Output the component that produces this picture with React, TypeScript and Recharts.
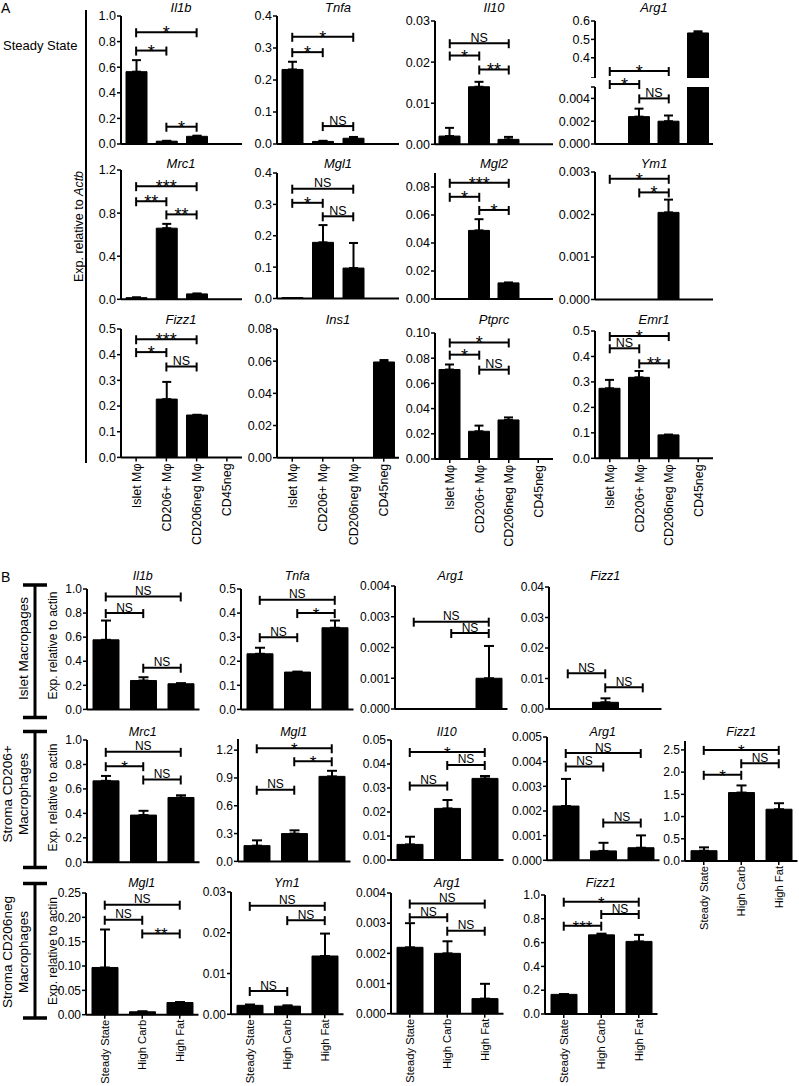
import React from 'react';
import { BarChart, Bar, XAxis, YAxis, ErrorBar, ReferenceLine } from 'recharts';

const FONT = '"Liberation Sans", Arial, Helvetica, sans-serif';

type Sig = [number, number, number, string];

// ---- Panel A: steady state, four populations ----
const groupsA = ['Islet Mφ', 'CD206+ Mφ', 'CD206neg Mφ', 'CD45neg'];

const aIl1b = [0.565, 0.022, 0.06, 0];
const aIl1bErr = [0.09, 0.003, 0.005, 0];
const aIl1bSig: Sig[] = [[0, 2, 0.873, '*'], [0, 1, 0.73, '*'], [1, 2, 0.135, '*']];

const aTnfa = [0.233, 0.008, 0.018, 0];
const aTnfaErr = [0.024, 0.002, 0.004, 0];
const aTnfaSig: Sig[] = [[0, 2, 0.335, '*'], [0, 1, 0.287, '*'], [1, 2, 0.056, 'NS']];

const aIl10 = [0.002, 0.014, 0.0012, 0];
const aIl10Err = [0.002, 0.0012, 0.0006, 0];
const aIl10Sig: Sig[] = [[0, 2, 0.0246, 'NS'], [0, 1, 0.0216, '*'], [1, 2, 0.0182, '**']];

const aArg1 = [0, 0.0024, 0.002, 0.535];
const aArg1Err = [0, 0.0007, 0.0005, 0.009];
const aArg1Sig: Sig[] = [[0, 2, 0.0064, '*'], [0, 1, 0.00526, '*'], [1, 2, 0.004, 'NS']];

const aMrc1 = [0.015, 0.66, 0.05, 0];
const aMrc1Err = [0.003, 0.04, 0.004, 0];
const aMrc1Sig: Sig[] = [[0, 2, 1.05, '***'], [0, 1, 0.91, '**'], [1, 2, 0.788, '**']];

const aMgl1 = [0.003, 0.179, 0.097, 0];
const aMgl1Err = [0, 0.055, 0.08, 0];
const aMgl1Sig: Sig[] = [[0, 2, 0.35, 'NS'], [0, 1, 0.305, '*'], [1, 2, 0.262, 'NS']];

const aMgl2 = [0, 0.049, 0.0115, 0];
const aMgl2Err = [0, 0.008, 0.0003, 0];
const aMgl2Sig: Sig[] = [[0, 2, 0.083, '***'], [0, 1, 0.073, '*'], [1, 2, 0.0636, '*']];

const aYm1 = [0, 0, 0.00205, 0];
const aYm1Err = [0, 0, 0.0003, 0];
const aYm1Sig: Sig[] = [[0, 2, 0.00284, '*'], [1, 2, 0.00252, '*']];

const aFizz1 = [0, 0.227, 0.165, 0];
const aFizz1Err = [0, 0.067, 0.001, 0];
const aFizz1Sig: Sig[] = [[0, 2, 0.46, '***'], [0, 1, 0.41, '*'], [1, 2, 0.354, 'NS']];

const aIns1 = [0, 0, 0, 0.0595];
const aIns1Err = [0, 0, 0, 0.0012];

const aPtprc = [0.071, 0.022, 0.031, 0];
const aPtprcErr = [0.004, 0.0045, 0.002, 0];
const aPtprcSig: Sig[] = [[0, 2, 0.0925, '*'], [0, 1, 0.0828, '*'], [1, 2, 0.0709, 'NS']];

const aEmr1 = [0.275, 0.318, 0.092, 0];
const aEmr1Err = [0.033, 0.025, 0.001, 0];
const aEmr1Sig: Sig[] = [[0, 2, 0.48, '*'], [0, 1, 0.432, 'NS'], [1, 2, 0.373, '**']];

// ---- Panel B: diets ----
const groupsB = ['Steady State', 'High Carb', 'High Fat'];

const bIl1b = [0.578, 0.24, 0.213];
const bIl1bErr = [0.16, 0.027, 0.005];
const bIl1bSig: Sig[] = [[0, 2, 0.938, 'NS'], [0, 1, 0.8, 'NS'], [1, 2, 0.346, 'NS']];

const bTnfa = [0.231, 0.155, 0.339];
const bTnfaErr = [0.025, 0.002, 0.03];
const bTnfaSig: Sig[] = [[0, 2, 0.455, 'NS'], [1, 2, 0.4, '*'], [0, 1, 0.3, 'NS']];

const bArg1Islet = [0, 0, 0.001];
const bArg1IsletErr = [0, 0, 0.00105];
const bArg1IsletSig: Sig[] = [[0, 2, 0.00284, 'NS'], [1, 2, 0.00247, 'NS']];

const bFizz1Islet = [0, 0.0022, 0];
const bFizz1IsletErr = [0, 0.0013, 0];
const bFizz1IsletSig: Sig[] = [[0, 1, 0.0117, 'NS'], [1, 2, 0.0071, 'NS']];

const bMrc1 = [0.666, 0.386, 0.53];
const bMrc1Err = [0.04, 0.035, 0.018];
const bMrc1Sig: Sig[] = [[0, 2, 0.903, 'NS'], [0, 1, 0.786, '*'], [1, 2, 0.677, 'NS']];

const bMgl1Pos = [0.17, 0.3, 0.917];
const bMgl1PosErr = [0.057, 0.035, 0.06];
const bMgl1PosSig: Sig[] = [[0, 2, 1.22, '*'], [1, 2, 1.08, '*'], [0, 1, 0.773, 'NS']];

const bIl10 = [0.0065, 0.0215, 0.034];
const bIl10Err = [0.0032, 0.0035, 0.001];
const bIl10Sig: Sig[] = [[0, 2, 0.045, '*'], [1, 2, 0.0396, 'NS'], [0, 1, 0.031, 'NS']];

const bArg1Pos = [0.0022, 0.00038, 0.00051];
const bArg1PosErr = [0.0011, 0.00033, 0.0005];
const bArg1PosSig: Sig[] = [[0, 2, 0.00435, 'NS'], [0, 1, 0.0038, 'NS'], [1, 2, 0.00153, 'NS']];

const bFizz1Pos = [0.232, 1.54, 1.165];
const bFizz1PosErr = [0.075, 0.16, 0.135];
const bFizz1PosSig: Sig[] = [[0, 2, 2.5, '*'], [1, 2, 2.2, 'NS'], [0, 1, 1.94, '*']];

const bMgl1Neg = [0.097, 0.006, 0.025];
const bMgl1NegErr = [0.078, 0.001, 0.001];
const bMgl1NegSig: Sig[] = [[0, 2, 0.226, 'NS'], [0, 1, 0.195, 'NS'], [1, 2, 0.167, '**']];

const bYm1Neg = [0.0022, 0.002, 0.0143];
const bYm1NegErr = [0.0002, 0.0002, 0.0055];
const bYm1NegSig: Sig[] = [[0, 2, 0.0266, 'NS'], [1, 2, 0.0231, 'NS'], [0, 1, 0.0057, 'NS']];

const bArg1Neg = [0.0022, 0.002, 0.0005];
const bArg1NegErr = [0.0008, 0.0004, 0.00049];
const bArg1NegSig: Sig[] = [[0, 2, 0.00365, 'NS'], [0, 1, 0.0032, 'NS'], [1, 2, 0.00275, 'NS']];

const bFizz1Neg = [0.165, 0.665, 0.61];
const bFizz1NegErr = [0.002, 0.01, 0.055];
const bFizz1NegSig: Sig[] = [[0, 2, 0.944, '*'], [1, 2, 0.84, 'NS'], [0, 1, 0.742, '***']];

interface Cfg {
  title?: string;
  cats: string[];
  vals: (number | null)[];
  errs: number[];
  sig: Sig[];
  x: number; w: number; top: number; bottom: number;
  min?: number; max: number; ticks: number[]; dec: number;
  blank?: number[];
  labels?: boolean; hideX?: boolean; clip?: boolean; padT?: number;
  titleY?: number;
  B?: boolean;
}

const bracket = (text: string, big: number, small: number) => (p: any) => {
  const { x1, y1, x2 } = p;
  const star = text.includes('*');
  return (
    <g>
      <line x1={x1} y1={y1} x2={x2} y2={y1} stroke="#000" strokeWidth={2} />
      <line x1={x1} y1={y1 - 4} x2={x1} y2={y1 + 5} stroke="#000" strokeWidth={2} />
      <line x1={x2} y1={y1 - 4} x2={x2} y2={y1 + 5} stroke="#000" strokeWidth={2} />
      <text x={(x1 + x2) / 2} y={star ? y1 + 7 : y1 - 1.5} textAnchor="middle"
        fontSize={star ? big : small} fontFamily={FONT} fill="#000">{text}</text>
    </g>
  );
};

const rotTick = (fs: number) => (p: any) => (
  <text transform={`translate(${p.x},${p.y}) rotate(-90)`} textAnchor="end" dy="0.35em"
    fontSize={fs} fontFamily={FONT} fill="#000">{p.payload.value}</text>
);

function Panel({ c }: { c: Cfg }) {
  const padT = c.padT ?? 16;
  const padL = 46;
  const padR = 4;
  const padB = c.hideX ? 0 : c.labels ? 95 : 8;
  const fs = c.B ? 12 : 12.5;
  const data = c.cats.map((name, i) => ({
    name,
    v: c.vals[i],
    e: c.errs[i] ? [0, c.errs[i]] : null,
  }));
  const axisStyle = { stroke: '#000', strokeWidth: 2 };
  const tickStyle = { stroke: '#000', strokeWidth: 1.5 };
  return (
    <div style={{ position: 'absolute', left: c.x - padL, top: c.top - padT }}>
      <BarChart width={padL + c.w + padR} height={padT + (c.bottom - c.top) + padB} data={data}
        margin={{ top: padT, right: padR, bottom: 0, left: 0 }}>
        <XAxis dataKey="name" hide={c.hideX} height={padB} interval={0} axisLine={axisStyle}
          tickLine={tickStyle} tickSize={4} tickMargin={c.B ? 1 : 2}
          tick={c.labels ? rotTick(c.B ? 11.2 : 12.5) : false} />
        <YAxis width={padL} type="number" domain={[c.min ?? 0, c.max]} ticks={c.ticks} interval={0}
          allowDataOverflow={!!c.clip} axisLine={axisStyle} tickLine={tickStyle} tickSize={4} tickMargin={1}
          tick={{ fontSize: fs, fill: '#000', fontFamily: FONT }}
          tickFormatter={(v: number) => (c.blank && c.blank.includes(v) ? '' : v.toFixed(c.dec))} />
        <Bar dataKey="v" fill="#000" stroke="#000" barSize={c.B ? 26 : 21} isAnimationActive={false}>
          <ErrorBar dataKey="e" direction="y" width={c.B ? 5 : 4.5} stroke="#000" strokeWidth={2} />
        </Bar>
        {c.sig.map(([a, b, y, t], i) => (
          <ReferenceLine key={i} ifOverflow="visible"
            segment={[{ x: c.cats[a], y }, { x: c.cats[b], y }]}
            shape={bracket(t, c.B ? 17 : 18, c.B ? 12 : 12.5)} />
        ))}
      </BarChart>
    </div>
  );
}

const AX = [120.5, 277, 435, 595];
const AW = [121, 122, 118, 118];
const BW = 112.5;

const panels: Cfg[] = [
  // A row 1
  { title: 'Il1b', cats: groupsA, vals: aIl1b, errs: aIl1bErr, sig: aIl1bSig, x: AX[0], w: AW[0], top: 16, bottom: 144, max: 1, ticks: [0, 0.2, 0.4, 0.6, 0.8, 1], dec: 1, titleY: 12 },
  { title: 'Tnfa', cats: groupsA, vals: aTnfa, errs: aTnfaErr, sig: aTnfaSig, x: AX[1], w: AW[1], top: 16, bottom: 144, max: 0.4, ticks: [0, 0.1, 0.2, 0.3, 0.4], dec: 1, titleY: 12 },
  { title: 'Il10', cats: groupsA, vals: aIl10, errs: aIl10Err, sig: aIl10Sig, x: AX[2], w: AW[2], top: 20.7, bottom: 144, max: 0.03, ticks: [0, 0.01, 0.02, 0.03], dec: 2, titleY: 12 },
  { title: 'Arg1', cats: groupsA, vals: aArg1, errs: aArg1Err.map((e, i) => (aArg1[i] > 0.005 ? 0 : e)), sig: aArg1Sig, x: AX[3], w: AW[3], top: 87, bottom: 144, max: 0.005, ticks: [0, 0.002, 0.004, 0.005], blank: [0.005], dec: 3, clip: true, padT: 34, titleY: 12 },
  { cats: groupsA, vals: aArg1.map((v) => (v > 0.29 ? v : null)), errs: aArg1Err.map((e, i) => (aArg1[i] > 0.29 ? e : 0)), sig: [], x: AX[3], w: AW[3], top: 20.7, bottom: 77.7, min: 0.29, max: 0.6, ticks: [0.29, 0.4, 0.5, 0.6], blank: [0.29], dec: 1, clip: true, hideX: true, padT: 8 },
  // A row 2
  { title: 'Mrc1', cats: groupsA, vals: aMrc1, errs: aMrc1Err, sig: aMrc1Sig, x: AX[0], w: AW[0], top: 169.5, bottom: 298.8, max: 1.2, ticks: [0, 0.4, 0.8, 1.2], dec: 1, titleY: 168 },
  { title: 'Mgl1', cats: groupsA, vals: aMgl1, errs: aMgl1Err, sig: aMgl1Sig, x: AX[1], w: AW[1], top: 173.3, bottom: 298.8, max: 0.4, ticks: [0, 0.1, 0.2, 0.3, 0.4], dec: 1, titleY: 168 },
  { title: 'Mgl2', cats: groupsA, vals: aMgl2, errs: aMgl2Err, sig: aMgl2Sig, x: AX[2], w: AW[2], top: 173, bottom: 299, max: 0.09, ticks: [0, 0.02, 0.04, 0.06, 0.08], dec: 2, titleY: 168 },
  { title: 'Ym1', cats: groupsA, vals: aYm1, errs: aYm1Err, sig: aYm1Sig, x: AX[3], w: AW[3], top: 171.5, bottom: 299, max: 0.003, ticks: [0, 0.001, 0.002, 0.003], dec: 3, titleY: 168 },
  // A row 3
  { title: 'Fizz1', cats: groupsA, vals: aFizz1, errs: aFizz1Err, sig: aFizz1Sig, x: AX[0], w: AW[0], top: 329.3, bottom: 457.7, max: 0.5, ticks: [0, 0.1, 0.2, 0.3, 0.4, 0.5], dec: 1, labels: true, titleY: 324 },
  { title: 'Ins1', cats: groupsA, vals: aIns1, errs: aIns1Err, sig: [], x: AX[1], w: AW[1], top: 329, bottom: 457.7, max: 0.08, ticks: [0, 0.02, 0.04, 0.06, 0.08], dec: 2, labels: true, titleY: 324 },
  { title: 'Ptprc', cats: groupsA, vals: aPtprc, errs: aPtprcErr, sig: aPtprcSig, x: AX[2], w: AW[2], top: 333.3, bottom: 459.3, max: 0.1, ticks: [0, 0.02, 0.04, 0.06, 0.08, 0.1], dec: 2, labels: true, titleY: 324 },
  { title: 'Emr1', cats: groupsA, vals: aEmr1, errs: aEmr1Err, sig: aEmr1Sig, x: AX[3], w: AW[3], top: 331, bottom: 458.3, max: 0.5, ticks: [0, 0.1, 0.2, 0.3, 0.4, 0.5], dec: 1, labels: true, titleY: 324 },
  // B row 1
  { B: true, title: 'Il1b', cats: groupsB, vals: bIl1b, errs: bIl1bErr, sig: bIl1bSig, x: 86.5, w: BW, top: 588.6, bottom: 709, max: 1, ticks: [0, 0.2, 0.4, 0.6, 0.8, 1], dec: 1, titleY: 580 },
  { B: true, title: 'Tnfa', cats: groupsB, vals: bTnfa, errs: bTnfaErr, sig: bTnfaSig, x: 241, w: BW, top: 588.6, bottom: 709, max: 0.5, ticks: [0, 0.1, 0.2, 0.3, 0.4, 0.5], dec: 1, titleY: 580 },
  { B: true, title: 'Arg1', cats: groupsB, vals: bArg1Islet, errs: bArg1IsletErr, sig: bArg1IsletSig, x: 394.5, w: BW, top: 586, bottom: 709, max: 0.004, ticks: [0, 0.001, 0.002, 0.003, 0.004], dec: 3, titleY: 580 },
  { B: true, title: 'Fizz1', cats: groupsB, vals: bFizz1Islet, errs: bFizz1IsletErr, sig: bFizz1IsletSig, x: 549, w: BW, top: 587, bottom: 709, max: 0.04, ticks: [0, 0.01, 0.02, 0.03, 0.04], dec: 2, titleY: 580 },
  // B row 2
  { B: true, title: 'Mrc1', cats: groupsB, vals: bMrc1, errs: bMrc1Err, sig: bMrc1Sig, x: 86.5, w: BW, top: 740, bottom: 862.3, max: 1, ticks: [0, 0.2, 0.4, 0.6, 0.8, 1], dec: 1, titleY: 736 },
  { B: true, title: 'Mgl1', cats: groupsB, vals: bMgl1Pos, errs: bMgl1PosErr, sig: bMgl1PosSig, x: 237.5, w: BW, top: 739.3, bottom: 861.7, max: 1.32, ticks: [0, 0.3, 0.6, 0.9, 1.2], dec: 1, titleY: 736 },
  { B: true, title: 'Il10', cats: groupsB, vals: bIl10, errs: bIl10Err, sig: bIl10Sig, x: 390.5, w: BW, top: 740, bottom: 860, max: 0.05, ticks: [0, 0.01, 0.02, 0.03, 0.04, 0.05], dec: 2, titleY: 736 },
  { B: true, title: 'Arg1', cats: groupsB, vals: bArg1Pos, errs: bArg1PosErr, sig: bArg1PosSig, x: 546.5, w: BW, top: 736.7, bottom: 860, max: 0.005, ticks: [0, 0.001, 0.002, 0.003, 0.004, 0.005], dec: 3, titleY: 736 },
  { B: true, title: 'Fizz1', cats: groupsB, vals: bFizz1Pos, errs: bFizz1PosErr, sig: bFizz1PosSig, x: 685, w: BW, top: 741, bottom: 861, max: 2.7, ticks: [0, 0.5, 1, 1.5, 2, 2.5], dec: 1, labels: true, titleY: 736 },
  // B row 3
  { B: true, title: 'Mgl1', cats: groupsB, vals: bMgl1Neg, errs: bMgl1NegErr, sig: bMgl1NegSig, x: 85.5, w: BW, top: 893.3, bottom: 1015, max: 0.25, ticks: [0, 0.05, 0.1, 0.15, 0.2, 0.25], dec: 2, labels: true, titleY: 887 },
  { B: true, title: 'Ym1', cats: groupsB, vals: bYm1Neg, errs: bYm1NegErr, sig: bYm1NegSig, x: 230.5, w: BW, top: 891.7, bottom: 1014, max: 0.03, ticks: [0, 0.01, 0.02, 0.03], dec: 2, labels: true, titleY: 887 },
  { B: true, title: 'Arg1', cats: groupsB, vals: bArg1Neg, errs: bArg1NegErr, sig: bArg1NegSig, x: 391, w: BW, top: 893.3, bottom: 1014, max: 0.004, ticks: [0, 0.001, 0.002, 0.003, 0.004], dec: 3, labels: true, titleY: 887 },
  { B: true, title: 'Fizz1', cats: groupsB, vals: bFizz1Neg, errs: bFizz1NegErr, sig: bFizz1NegSig, x: 544.5, w: BW, top: 895, bottom: 1014, max: 1, ticks: [0, 0.2, 0.4, 0.6, 0.8, 1], dec: 1, labels: true, titleY: 887 },
];

const beams = [[585, 717.5], [731.5, 867.5], [883.5, 1018]];

export default function App() {
  return (
    <div style={{ position: 'absolute', left: 0, top: 0, width: 799, height: 1086, background: '#fff', fontFamily: FONT, overflow: 'hidden' }}>
      <svg width={799} height={1086} style={{ position: 'absolute', left: 0, top: 0 }} fontFamily={FONT} fill="#000">
        <text x={1} y={13} fontSize={14}>A</text>
        <text x={3} y={50} fontSize={13}>Steady State</text>
        <line x1={86} y1={10} x2={86} y2={463} stroke="#000" strokeWidth={2} />
        <text transform="translate(82.5,226.5) rotate(-90)" textAnchor="middle" fontSize={12.5}>
          Exp. relative to <tspan fontStyle="italic">Actb</tspan>
        </text>
        <text x={1} y={581.5} fontSize={14}>B</text>
        {beams.map(([t, b], i) => (
          <g key={i}>
            <line x1={35} y1={t} x2={35} y2={b} stroke="#000" strokeWidth={3} />
            <line x1={23} y1={t} x2={47} y2={t} stroke="#000" strokeWidth={3.5} />
            <line x1={23} y1={b} x2={47} y2={b} stroke="#000" strokeWidth={3.5} />
          </g>
        ))}
        <text transform="translate(28,648.5) rotate(-90)" textAnchor="middle" fontSize={13.5}>Islet Macropages</text>
        <text transform="translate(11.5,794) rotate(-90)" textAnchor="middle" fontSize={13.5}>Stroma CD206+</text>
        <text transform="translate(28,794) rotate(-90)" textAnchor="middle" fontSize={13.5}>Macrophages</text>
        <text transform="translate(11.5,952) rotate(-90)" textAnchor="middle" fontSize={13.5}>Stroma CD206neg</text>
        <text transform="translate(28,952) rotate(-90)" textAnchor="middle" fontSize={13.5}>Macrophages</text>
        {[645.5, 797.5, 951].map((cy, i) => (
          <text key={i} transform={`translate(57,${cy}) rotate(-90)`} textAnchor="middle" fontSize={12}>Exp. relative to actin</text>
        ))}
        {panels.filter((c) => c.title).map((c, i) => (
          <text key={i} x={c.x + c.w / 2} y={c.titleY} textAnchor="middle" fontStyle="italic" fontSize={c.B ? 12.5 : 13}>{c.title}</text>
        ))}
      </svg>
      {panels.map((c, i) => (
        <Panel key={i} c={c} />
      ))}
    </div>
  );
}
